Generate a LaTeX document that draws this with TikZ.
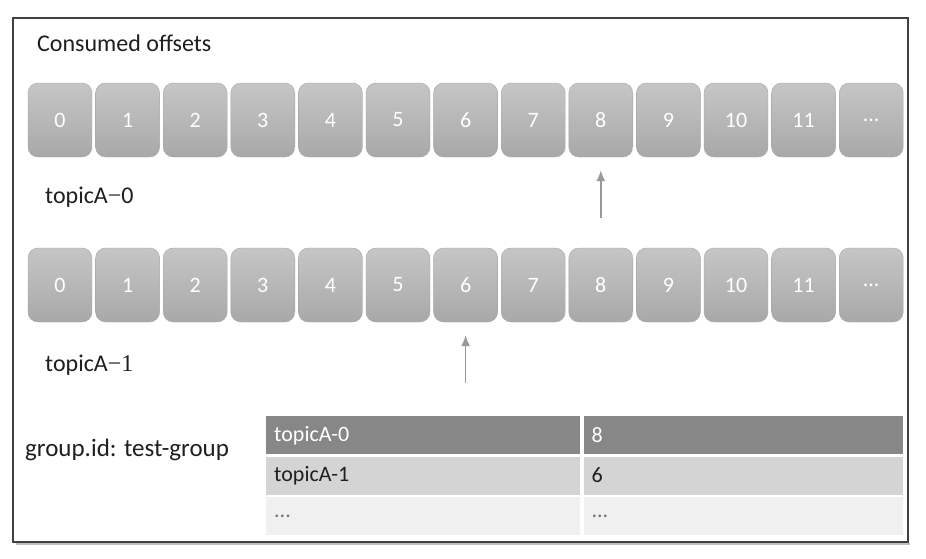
\documentclass[tikz,border=0pt]{standalone}
\usepackage{fontspec}
\setmainfont{Carlito}
\newfontfamily\serifnum{Liberation Serif}
\usetikzlibrary{arrows.meta,positioning}

\def\more{...}

\begin{document}
\begin{tikzpicture}[x=1pt, y=-1pt, >=Latex,
  off/.style={draw=gray!70, rounded corners=10pt, top color=gray!45, bottom color=gray!68, text=white, minimum width=64pt, minimum height=74pt, inner sep=0pt, font=\fontsize{22}{24}\selectfont},
  lbl/.style={anchor=west, inner sep=0pt, text=black!88, font=\fontsize{24}{28}\selectfont},
  cell/.style={anchor=north west, inner xsep=8pt, inner ysep=0pt, minimum height=38pt, align=left, font=\fontsize{22}{24}\selectfont},
  ptr/.style={->, draw=gray!80, line width=1.6pt, arrows={-Latex[length=11pt, width=9pt]}}]
\fill[white] (0,0) rectangle (926,558);
\useasboundingbox (0,0) rectangle (926,558);
% frame
\draw[gray!50, line width=2.5pt] (16,544) -- (910,544);
\draw[draw=black!75, line width=1.4pt] (13,18) rectangle (908,542);
\node[lbl] (title) at (37,43) {Consumed offsets};
% topicA-0
\node[off] (a0) at (60,120) {0};
\foreach \t [count=\i] in {1,...,11,\more}{
  \pgfmathtruncatemacro\p{\i-1}
  \node[off, right=3.2pt of a\p] (a\i) {\t};
}
\node[lbl] (t0) at (45,197) {topicA{\serifnum −}0};
\coordinate (p0) at ([yshift=-61pt]a8.south);
\draw[ptr] (p0) -- ([yshift=-13pt]a8.south);
% topicA-1
\node[off] (b0) at (60,285) {0};
\foreach \t [count=\i] in {1,...,11,\more}{
  \pgfmathtruncatemacro\p{\i-1}
  \node[off, right=3.2pt of b\p] (b\i) {\t};
}
\node[lbl] (t1) at (45,365) {topicA{\serifnum −1}};
\coordinate (p1) at ([yshift=-61pt]b6.south);
\draw[ptr] (p1) -- ([yshift=-13pt]b6.south);
% group table
\node[lbl, font=\fontsize{25}{28}\selectfont] (grp) at (25,450) {group.id: test-group};
\node[cell, fill=black!47, text=white, text width=298pt] (k0) at (266,416) {topicA-0};
\node[cell, fill=black!47, text=white, text width=303pt, right=3pt of k0] (v0) {8};
\node[cell, fill=black!17, text=black!88, text width=298pt, below=2pt of k0] (k1) {topicA-1};
\node[cell, fill=black!17, text=black!88, text width=303pt, right=3pt of k1] (v1) {6};
\node[cell, fill=black!6, text=black!55, text width=298pt, below=2pt of k1] (k2) {\more};
\node[cell, fill=black!6, text=black!55, text width=303pt, right=3pt of k2] (v2) {\more};
\end{tikzpicture}
\end{document}
